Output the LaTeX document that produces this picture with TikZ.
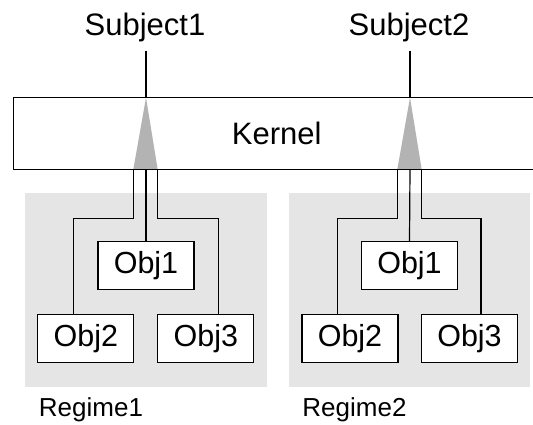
\documentclass[tikz,border=0pt]{standalone}
\usepackage{fontspec}
\setmainfont{Liberation Sans}
\begin{document}
\begin{tikzpicture}[x=1pt,y=-1pt,
  line width=1.3pt,
  big/.style={font=\fontsize{31}{37}\selectfont, inner sep=0pt},
  lab/.style={font=\fontsize{26}{31}\selectfont, inner sep=0pt},
  objbox/.style={draw, fill=white, minimum width=96pt, minimum height=48pt, inner sep=0pt, font=\fontsize{30.5}{36}\selectfont},
  regime/.style={fill=regimegray, draw=none},
  wedge/.style={fill=wedgegray, draw=none},
  wire/.style={draw, line width=1.2pt}
]
\definecolor{regimegray}{HTML}{E5E5E5}
\definecolor{wedgegray}{HTML}{B3B3B3}
\useasboundingbox (0,0) rectangle (533,424);
\clip (0,0) rectangle (533,424);

% regime backgrounds
\fill[regime] (25,192.7) rectangle (266.7,386.7);
\fill[regime] (289.3,192.7) rectangle (530,386.7);

% subjects
\node[big, anchor=base, inner ysep=8pt] (s1) at (145,35.5) {Subject1};
\node[big, anchor=base, inner ysep=8pt] (s2) at (409,35.5) {Subject2};

% triangle base points
\coordinate (b1l) at (133.3,169.5);
\coordinate (b1m) at (146,169.5);
\coordinate (b1r) at (157.7,169.5);
\coordinate (b2l) at (397.3,169.5);
\coordinate (b2m) at (410,169.5);
\coordinate (b2r) at (421.7,169.5);
\coordinate (apex1) at (146,97.5);
\coordinate (apex2) at (410,97.5);
\coordinate (bend) at (0,218.3);

% wedges
\fill[wedge] (apex1) -- (b1l) -- (b1r) -- cycle;
\fill[wedge] (apex2) -- (b2l) -- (b2r) -- cycle;

% kernel
\node[draw, big, minimum width=527pt, minimum height=72pt] (kernel) at (276.8,133.5) {Kernel};

% objects
\node[objbox] (o1a) at (146,265.8) {Obj1};
\node[objbox] (o2a) at (85.8,338.2) {Obj2};
\node[objbox] (o3a) at (205.8,338.2) {Obj3};
\node[objbox] (o1b) at (409.5,265.8) {Obj1};
\node[objbox] (o2b) at (350,338.2) {Obj2};
\node[objbox] (o3b) at (469.5,338.2) {Obj3};

% subject lines
\draw[wire] (s1.south -| apex1) -- (apex1);
\draw[wire] (s2.south -| apex2) -- (apex2);

% connectors regime 1
\draw[wire] (b1l) -- (b1l |- bend) -| ([xshift=-12pt]o2a.north);
\draw[wire] (b1m) -- (o1a.north);
\draw[wire] (b1r) -- (b1r |- bend) -| ([xshift=12.5pt]o3a.north);
% connectors regime 2
\draw[wire] (b2l) -- (b2l |- bend) -| ([xshift=-12.3pt]o2b.north);
\draw[wire] (b2m) -- (o1b.north);
\draw[wire] (b2r) -- (b2r |- bend) -| ([xshift=11.5pt]o3b.north);

% regime labels
\node[lab] (r1) at (91,410) {Regime1};
\node[lab] (r2) at (354.5,410) {Regime2};
\end{tikzpicture}
\end{document}
